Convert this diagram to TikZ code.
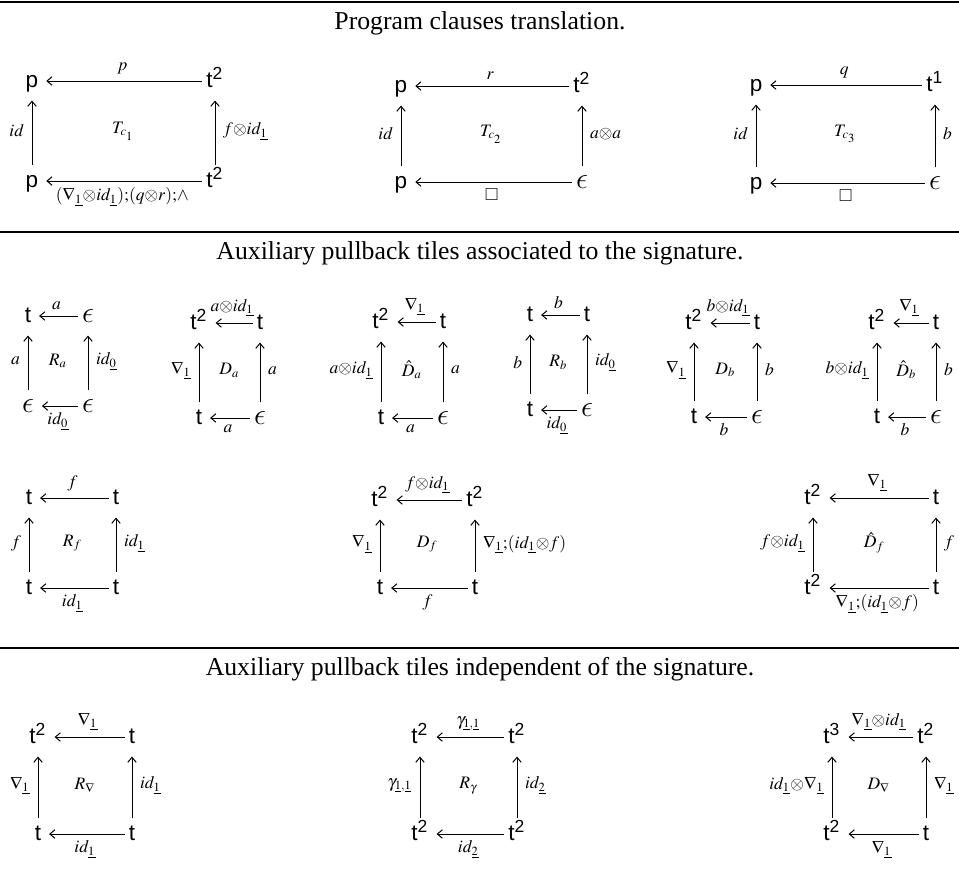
\documentclass[tikz,border=0pt]{standalone}
\usepackage{mathptmx}
\usepackage{amssymb}
\DeclareSymbolFont{cmletters}{OML}{cmm}{m}{it}
\DeclareMathSymbol{\lunateeps}{\mathord}{cmletters}{"0F}
\newcommand{\epsobj}{\mbox{\fontsize{12.5}{13}\selectfont$\lunateeps$}}
\usepackage{fontspec}
\setmainfont{Liberation Serif}
\setsansfont{Liberation Sans}
\usepackage{tikz}
\usetikzlibrary{arrows.meta, calc}

\begin{document}
\begin{tikzpicture}[
        x=0.4pt, y=-0.4pt,
        obj/.style={font=\sffamily\fontsize{9}{10}\selectfont,text height=1.5ex,text depth=0.3ex,inner xsep=1.5pt,inner ysep=2pt},
        lab/.style={font=\fontsize{7}{8}\selectfont,inner xsep=3pt,inner ysep=2.5pt},
        tilename/.style={font=\fontsize{7}{8}\selectfont},
        heading/.style={font=\fontsize{10.3}{12}\selectfont},
        arr/.style={-{Straight Barb[length=2pt,width=3.4pt]},line width=0.4pt,shorten >=1.5pt},
        rulebar/.style={line width=0.5pt}
    ]
        \useasboundingbox (0,0) rectangle (959,883);

        \draw[rulebar] (0,2) -- (959,2);
        \node[heading] (head1) at (480,23) {Program clauses translation.};
        \draw[rulebar] (0,232) -- (959,232);
        \node[heading] (head2) at (480,253) {Auxiliary pullback tiles associated to the signature.};
        \draw[rulebar] (0,648) -- (959,648);
        \node[heading] (head3) at (480,669) {Auxiliary pullback tiles independent of the signature.};

        \node[obj] (c1tl) at (32,81) {p};
        \node[obj] (c1tr) at (215,81) {t\textsuperscript{2}};
        \node[obj] (c1bl) at (32,181) {p};
        \node[obj] (c1br) at (215,181) {t\textsuperscript{2}};
        \draw[arr] (c1tr) -- node[lab,above]{$p$} (c1tl);
        \draw[arr] (c1bl) -- node[lab,left]{$id$} (c1tl);
        \draw[arr] (c1br) -- node[lab,right]{$f{\otimes}id_{\underline{1}}$} (c1tr);
        \draw[arr] (c1br) -- node[lab,below]{$(\nabla_{\underline{1}}{\otimes}id_{\underline{1}}){;}(q{\otimes}r){;}{\wedge}$} (c1bl);
        \node[tilename] (c1name) at ($(c1tl)!0.5!(c1br)$) {$T_{c_1}$};

        \node[obj] (c2tl) at (401,86) {p};
        \node[obj] (c2tr) at (582,86) {t\textsuperscript{2}};
        \node[obj] (c2bl) at (401,182) {p};
        \node[obj] (c2br) at (582,182) {\epsobj};
        \draw[arr] (c2tr) -- node[lab,above]{$r$} (c2tl);
        \draw[arr] (c2bl) -- node[lab,left]{$id$} (c2tl);
        \draw[arr] (c2br) -- node[lab,right]{$a{\otimes}a$} (c2tr);
        \draw[arr] (c2br) -- node[lab,below]{$\square$} (c2bl);
        \node[tilename] (c2name) at ($(c2tl)!0.5!(c2br)$) {$T_{c_2}$};

        \node[obj] (c3tl) at (756,85) {p};
        \node[obj] (c3tr) at (935,85) {t\textsuperscript{1}};
        \node[obj] (c3bl) at (756,183) {p};
        \node[obj] (c3br) at (935,183) {\epsobj};
        \draw[arr] (c3tr) -- node[lab,above]{$q$} (c3tl);
        \draw[arr] (c3bl) -- node[lab,left]{$id$} (c3tl);
        \draw[arr] (c3br) -- node[lab,right]{$b$} (c3tr);
        \draw[arr] (c3br) -- node[lab,below]{$\square$} (c3bl);
        \node[tilename] (c3name) at ($(c3tl)!0.5!(c3br)$) {$T_{c_3}$};

        \node[obj] (ratl) at (28,316) {t};
        \node[obj] (ratr) at (88,316) {\epsobj};
        \node[obj] (rabl) at (28,406) {\epsobj};
        \node[obj] (rabr) at (88,406) {\epsobj};
        \draw[arr] (ratr) -- node[lab,above]{$a$} (ratl);
        \draw[arr] (rabl) -- node[lab,left]{$a$} (ratl);
        \draw[arr] (rabr) -- node[lab,right]{$id_{\underline{0}}$} (ratr);
        \draw[arr] (rabr) -- node[lab,below]{$id_{\underline{0}}$} (rabl);
        \node[tilename] (raname) at ($(ratl)!0.5!(rabr)$) {$R_a$};

        \node[obj] (datl) at (199,323) {t\textsuperscript{2}};
        \node[obj] (datr) at (260,323) {t};
        \node[obj] (dabl) at (199,418) {t};
        \node[obj] (dabr) at (260,418) {\epsobj};
        \draw[arr] (datr) -- node[lab,above]{$a{\otimes}id_{\underline{1}}$} (datl);
        \draw[arr] (dabl) -- node[lab,left]{$\nabla_{\underline{1}}$} (datl);
        \draw[arr] (dabr) -- node[lab,right]{$a$} (datr);
        \draw[arr] (dabr) -- node[lab,below]{$a$} (dabl);
        \node[tilename] (daname) at ($(datl)!0.5!(dabr)$) {$D_a$};

        \node[obj] (dhatl) at (381,322) {t\textsuperscript{2}};
        \node[obj] (dhatr) at (443,322) {t};
        \node[obj] (dhabl) at (381,418) {t};
        \node[obj] (dhabr) at (443,418) {\epsobj};
        \draw[arr] (dhatr) -- node[lab,above]{$\nabla_{\underline{1}}$} (dhatl);
        \draw[arr] (dhabl) -- node[lab,left]{$a{\otimes}id_{\underline{1}}$} (dhatl);
        \draw[arr] (dhabr) -- node[lab,right]{$a$} (dhatr);
        \draw[arr] (dhabr) -- node[lab,below]{$a$} (dhabl);
        \node[tilename] (dhaname) at ($(dhatl)!0.5!(dhabr)$) {$\hat{D}_a$};

        \node[obj] (rbtl) at (530,315) {t};
        \node[obj] (rbtr) at (587,315) {t};
        \node[obj] (rbbl) at (530,410) {t};
        \node[obj] (rbbr) at (587,410) {\epsobj};
        \draw[arr] (rbtr) -- node[lab,above]{$b$} (rbtl);
        \draw[arr] (rbbl) -- node[lab,left]{$b$} (rbtl);
        \draw[arr] (rbbr) -- node[lab,right]{$id_{\underline{0}}$} (rbtr);
        \draw[arr] (rbbr) -- node[lab,below]{$id_{\underline{0}}$} (rbbl);
        \node[tilename] (rbname) at ($(rbtl)!0.5!(rbbr)$) {$R_b$};

        \node[obj] (dbtl) at (694,323) {t\textsuperscript{2}};
        \node[obj] (dbtr) at (757,323) {t};
        \node[obj] (dbbl) at (694,417) {t};
        \node[obj] (dbbr) at (757,417) {\epsobj};
        \draw[arr] (dbtr) -- node[lab,above]{$b{\otimes}id_{\underline{1}}$} (dbtl);
        \draw[arr] (dbbl) -- node[lab,left]{$\nabla_{\underline{1}}$} (dbtl);
        \draw[arr] (dbbr) -- node[lab,right]{$b$} (dbtr);
        \draw[arr] (dbbr) -- node[lab,below]{$b$} (dbbl);
        \node[tilename] (dbname) at ($(dbtl)!0.5!(dbbr)$) {$D_b$};

        \node[obj] (dhbtl) at (877,323) {t\textsuperscript{2}};
        \node[obj] (dhbtr) at (936,323) {t};
        \node[obj] (dhbbl) at (877,417) {t};
        \node[obj] (dhbbr) at (936,417) {\epsobj};
        \draw[arr] (dhbtr) -- node[lab,above]{$\nabla_{\underline{1}}$} (dhbtl);
        \draw[arr] (dhbbl) -- node[lab,left]{$b{\otimes}id_{\underline{1}}$} (dhbtl);
        \draw[arr] (dhbbr) -- node[lab,right]{$b$} (dhbtr);
        \draw[arr] (dhbbr) -- node[lab,below]{$b$} (dhbbl);
        \node[tilename] (dhbname) at ($(dhbtl)!0.5!(dhbbr)$) {$\hat{D}_b$};

        \node[obj] (rftl) at (29,498) {t};
        \node[obj] (rftr) at (116,498) {t};
        \node[obj] (rfbl) at (29,588) {t};
        \node[obj] (rfbr) at (116,588) {t};
        \draw[arr] (rftr) -- node[lab,above]{$f$} (rftl);
        \draw[arr] (rfbl) -- node[lab,left]{$f$} (rftl);
        \draw[arr] (rfbr) -- node[lab,right]{$id_{\underline{1}}$} (rftr);
        \draw[arr] (rfbr) -- node[lab,below]{$id_{\underline{1}}$} (rfbl);
        \node[tilename] (rfname) at ($(rftl)!0.5!(rfbr)$) {$R_f$};

        \node[obj] (dftl) at (380,500) {t\textsuperscript{2}};
        \node[obj] (dftr) at (475,500) {t\textsuperscript{2}};
        \node[obj] (dfbl) at (380,588) {t};
        \node[obj] (dfbr) at (475,588) {t};
        \draw[arr] (dftr) -- node[lab,above]{$f{\otimes}id_{\underline{1}}$} (dftl);
        \draw[arr] (dfbl) -- node[lab,left]{$\nabla_{\underline{1}}$} (dftl);
        \draw[arr] (dfbr) -- node[lab,right]{$\nabla_{\underline{1}}{;}(id_{\underline{1}}{\otimes}f)$} (dftr);
        \draw[arr] (dfbr) -- node[lab,below]{$f$} (dfbl);
        \node[tilename] (dfname) at ($(dftl)!0.5!(dfbr)$) {$D_f$};

        \node[obj] (dhftl) at (813,498) {t\textsuperscript{2}};
        \node[obj] (dhftr) at (936,498) {t};
        \node[obj] (dhfbl) at (813,588) {t\textsuperscript{2}};
        \node[obj] (dhfbr) at (936,588) {t};
        \draw[arr] (dhftr) -- node[lab,above]{$\nabla_{\underline{1}}$} (dhftl);
        \draw[arr] (dhfbl) -- node[lab,left]{$f{\otimes}id_{\underline{1}}$} (dhftl);
        \draw[arr] (dhfbr) -- node[lab,right]{$f$} (dhftr);
        \draw[arr] (dhfbr) -- node[lab,below]{$\nabla_{\underline{1}}{;}(id_{\underline{1}}{\otimes}f)$} (dhfbl);
        \node[tilename] (dhfname) at ($(dhftl)!0.5!(dhfbr)$) {$\hat{D}_f$};

        \node[obj] (rntl) at (38,737) {t\textsuperscript{2}};
        \node[obj] (rntr) at (132,737) {t};
        \node[obj] (rnbl) at (38,834) {t};
        \node[obj] (rnbr) at (132,834) {t};
        \draw[arr] (rntr) -- node[lab,above]{$\nabla_{\underline{1}}$} (rntl);
        \draw[arr] (rnbl) -- node[lab,left]{$\nabla_{\underline{1}}$} (rntl);
        \draw[arr] (rnbr) -- node[lab,right]{$id_{\underline{1}}$} (rntr);
        \draw[arr] (rnbr) -- node[lab,below]{$id_{\underline{1}}$} (rnbl);
        \node[tilename] (rnname) at ($(rntl)!0.5!(rnbr)$) {$R_{\nabla}$};

        \node[obj] (rgtl) at (420,737) {t\textsuperscript{2}};
        \node[obj] (rgtr) at (517,737) {t\textsuperscript{2}};
        \node[obj] (rgbl) at (420,834) {t\textsuperscript{2}};
        \node[obj] (rgbr) at (517,834) {t\textsuperscript{2}};
        \draw[arr] (rgtr) -- node[lab,above]{$\gamma_{\underline{1},\underline{1}}$} (rgtl);
        \draw[arr] (rgbl) -- node[lab,left]{$\gamma_{\underline{1},\underline{1}}$} (rgtl);
        \draw[arr] (rgbr) -- node[lab,right]{$id_{\underline{2}}$} (rgtr);
        \draw[arr] (rgbr) -- node[lab,below]{$id_{\underline{2}}$} (rgbl);
        \node[tilename] (rgname) at ($(rgtl)!0.5!(rgbr)$) {$R_{\gamma}$};

        \node[obj] (dntl) at (832,737) {t\textsuperscript{3}};
        \node[obj] (dntr) at (926,737) {t\textsuperscript{2}};
        \node[obj] (dnbl) at (832,834) {t\textsuperscript{2}};
        \node[obj] (dnbr) at (926,834) {t};
        \draw[arr] (dntr) -- node[lab,above]{$\nabla_{\underline{1}}{\otimes}id_{\underline{1}}$} (dntl);
        \draw[arr] (dnbl) -- node[lab,left]{$id_{\underline{1}}{\otimes}\nabla_{\underline{1}}$} (dntl);
        \draw[arr] (dnbr) -- node[lab,right]{$\nabla_{\underline{1}}$} (dntr);
        \draw[arr] (dnbr) -- node[lab,below]{$\nabla_{\underline{1}}$} (dnbl);
        \node[tilename] (dnname) at ($(dntl)!0.5!(dnbr)$) {$D_{\nabla}$};
    \end{tikzpicture}
\end{document}
